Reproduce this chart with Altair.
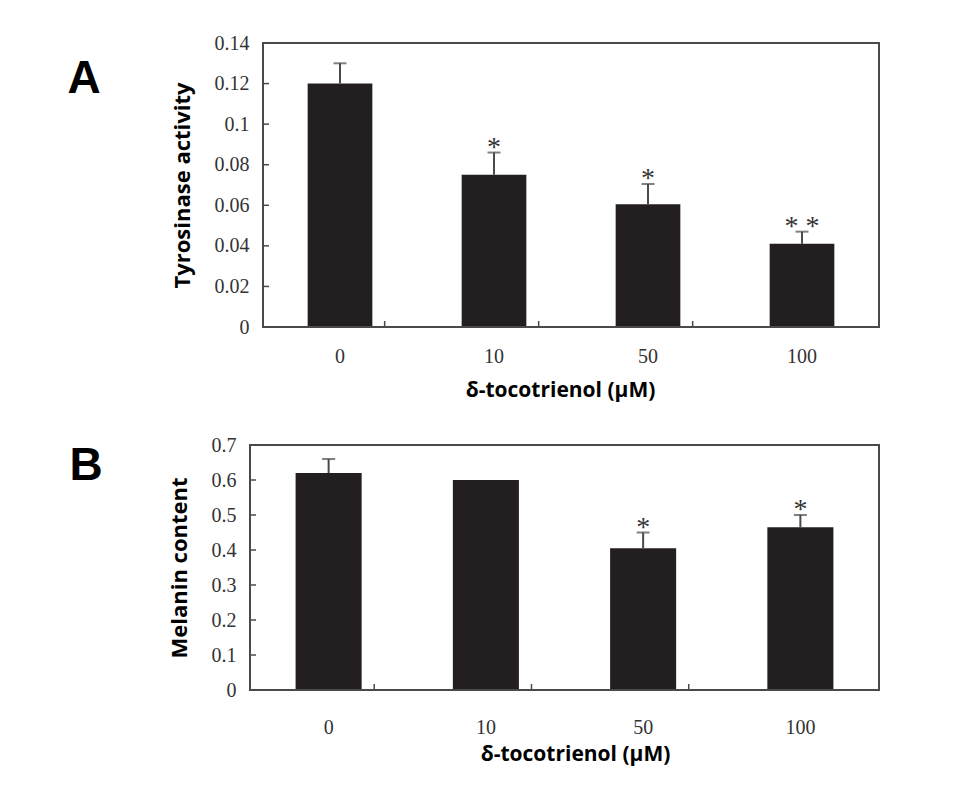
import altair as alt
import pandas as pd

# Treatment doses of delta-tocotrienol (uM)
doses = ["0", "10", "50", "100"]

# Panel A: tyrosinase activity (mean and upper SD)
tyr_mean = [0.120, 0.075, 0.0605, 0.041]
tyr_err = [0.010, 0.011, 0.010, 0.006]
tyr_sig = ["", "*", "*", "* *"]
tyr_ticks = [0, 0.02, 0.04, 0.06, 0.08, 0.1, 0.12, 0.14]

# Panel B: melanin content (mean and upper SD)
mel_mean = [0.62, 0.60, 0.405, 0.465]
mel_err = [0.04, 0.0, 0.045, 0.035]
mel_sig = ["", "", "*", "*"]
mel_ticks = [0, 0.1, 0.2, 0.3, 0.4, 0.5, 0.6, 0.7]

BAR = "#231f20"
INK = "#4a4a4a"
SERIF = "Liberation Serif"
SANS = "Open Sans"
PAD_IN = 0.58
ORIGIN_X = 264      # shared left edge of the view in both panels
RIGHT_X = 880       # shared right edge of the frames
VIEW_W = RIGHT_X - ORIGIN_X


def panel(means, errs, sigs, ticks, ymax, ytitle, letter, frame_left, height,
          top, top_abs, bottom_abs, letter_x, letter_y,
          label_pad, title_pad, title_x):
    df = pd.DataFrame({
        "dose": doses,
        "mean": means,
        "top": [m + e for m, e in zip(means, errs)],
        "err": errs,
        "sig": sigs,
    })
    tick_df = pd.DataFrame({"mean": ticks})
    bound_df = pd.DataFrame({"dose": doses[1:]})

    # frame may start left of the shared view edge
    fl = frame_left - ORIGIN_X
    frame_w = RIGHT_X - frame_left

    xscale = alt.Scale(domain=doses, range=[fl, VIEW_W],
                       paddingInner=PAD_IN, paddingOuter=PAD_IN / 2)
    yscale = alt.Scale(domain=[0, ymax], nice=False, zero=True)

    x_axis = alt.Axis(
        title="δ-tocotrienol (μM)", labelAngle=0, ticks=False, domain=False,
        labelFont=SERIF, labelFontSize=20, labelColor="#333",
        labelPadding=label_pad, titleFont=SANS, titleFontWeight="bold",
        titleFontSize=21, titleColor="#000", titlePadding=title_pad,
        titleX=title_x - ORIGIN_X,
    )
    y_axis = alt.Axis(
        title=ytitle, values=ticks, format="~g", ticks=False, domain=False,
        grid=False, labelFont=SERIF, labelFontSize=20, labelColor="#333",
        labelPadding=14, titleFont=SANS, titleFontWeight="bold",
        titleFontSize=22, titleColor="#000", titlePadding=20, offset=-fl,
    )
    X = alt.X("dose:N", sort=doses, scale=xscale, axis=x_axis)

    frame = alt.Chart(df).transform_filter("datum.dose == '0'").mark_rect(
        fill=None, stroke=INK, strokeWidth=2,
    ).encode(
        x=alt.value(fl), x2=alt.value(VIEW_W),
        y=alt.value(0), y2=alt.value(height),
    )

    bars = alt.Chart(df).mark_bar(color=BAR).encode(
        x=X, y=alt.Y("mean:Q", scale=yscale, axis=y_axis),
    )

    err_base = alt.Chart(df).transform_filter("datum.err > 0")
    stems = err_base.mark_rule(color=INK, strokeWidth=2).encode(
        x=X, y=alt.Y("mean:Q", scale=yscale, axis=y_axis), y2="top:Q",
    )
    caps = err_base.mark_tick(color=INK, thickness=2, size=13).encode(
        x=X, y=alt.Y("top:Q", scale=yscale, axis=y_axis),
    )
    stars = alt.Chart(df).mark_text(
        font=SERIF, fontSize=28, color="#333", baseline="alphabetic", dy=3,
    ).encode(x=X, y=alt.Y("top:Q", scale=yscale, axis=y_axis), text="sig:N")

    # inward ticks on the value axis
    yticks = alt.Chart(tick_df).mark_rule(color=INK, strokeWidth=1.5).encode(
        y=alt.Y("mean:Q", scale=yscale, axis=y_axis),
        x=alt.value(fl), x2=alt.value(fl + 6),
    )
    # inward ticks at the boundaries between dose groups
    step = frame_w / len(doses)
    xticks = alt.Chart(bound_df).mark_rule(color=INK, strokeWidth=1.5).encode(
        x=X, xOffset=alt.value(-step / 2),
        y=alt.value(height), y2=alt.value(height - 6),
    )
    label = alt.Chart(df).transform_filter("datum.dose == '0'").mark_text(
        text=letter, font="Liberation Sans", fontWeight="bold", fontSize=46,
        color="#000", align="center", baseline="middle",
    ).encode(x=alt.value(letter_x - ORIGIN_X), y=alt.value(letter_y - top))
    # invisible white guide fixing the panel's outer extent
    guide = alt.Chart(df).transform_filter("datum.dose == '0'").mark_rule(
        color="#ffffff", strokeWidth=1,
    ).encode(
        x=alt.value(5 - ORIGIN_X),
        y=alt.value(top_abs - top), y2=alt.value(bottom_abs - top),
    )

    return alt.layer(
        bars, stems, caps, stars, yticks, xticks, frame, label, guide,
    ).properties(width=VIEW_W, height=height)


chart_a = panel(tyr_mean, tyr_err, tyr_sig, tyr_ticks, 0.14, "Tyrosinase activity",
                "A", 264, 284, 43, 5, 420, 85, 79, 19, 13, 561)
chart_b = panel(mel_mean, mel_err, mel_sig, mel_ticks, 0.7, "Melanin content",
                "B", 251, 245, 445, 422, 790, 87, 466, 27, 6, 576)

chart = alt.vconcat(chart_a, chart_b, spacing=0).properties(
    padding={"left": 3, "top": 4, "right": 10, "bottom": 0},
    background="white",
).configure_view(stroke=None, strokeWidth=0)

chart.save("out.html", embed_options={"renderer": "svg", "actions": False})
